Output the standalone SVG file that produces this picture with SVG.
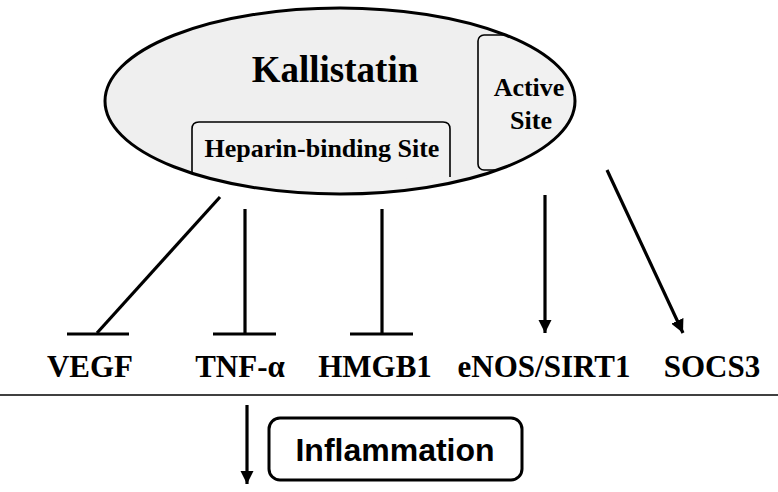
<svg xmlns="http://www.w3.org/2000/svg" width="778" height="492" viewBox="0 0 778 492">
<style>
.lab{font-family:"Liberation Serif","Times New Roman",serif;font-weight:bold;fill:#000;text-anchor:middle}
.ln{stroke:#000;stroke-width:3.2;fill:none}
.sub{fill:#f1f1f1;stroke:#000;stroke-width:1.6}
</style>
<defs>
<marker id="ah" viewBox="0 0 10 10" refX="10" refY="5" markerWidth="4.2" markerHeight="4.2" markerUnits="strokeWidth" orient="auto">
<path d="M0,0 L10,5 L0,10 z" fill="#000"/>
</marker>
<clipPath id="ec"><ellipse cx="340" cy="101" rx="235" ry="93"/></clipPath>
</defs>
<rect width="778" height="492" fill="#fff"/>
<g id="kallistatin">
<ellipse cx="340" cy="101" rx="235" ry="93" fill="#efefef" stroke="none"/>
<g clip-path="url(#ec)">
<rect x="192" y="122" width="258" height="120" rx="7" fill="#f1f1f1"/>
<path class="sub" fill="none" d="M192,185 V129 Q192,122 199,122 H443 Q450,122 450,129 V177"/>
<rect class="sub" x="478" y="35" width="160" height="135" rx="6"/>
</g>
<ellipse cx="340" cy="101" rx="235" ry="93" fill="none" stroke="#000" stroke-width="3"/>
<text class="lab" x="335" y="82" font-size="37">Kallistatin</text>
<text class="lab" x="322" y="157" font-size="26">Heparin-binding Site</text>
<text class="lab" x="529" y="96" font-size="26">Active</text>
<text class="lab" x="531" y="129" font-size="26">Site</text>
</g>
<g id="connectors">
<path class="ln" d="M220,197 L97,333"/>
<path class="ln" d="M67,334 H129" stroke-width="3.6"/>
<path class="ln" d="M245,209 V334"/>
<path class="ln" d="M213,334 H276" stroke-width="3.6"/>
<path class="ln" d="M382,209 V334"/>
<path class="ln" d="M350,334 H413" stroke-width="3.6"/>
<path class="ln" d="M545,195 V333" stroke-width="2.8" marker-end="url(#ah)"/>
<path class="ln" d="M607,170 L683,333" stroke-width="2.8" marker-end="url(#ah)"/>
<path d="M0,395 H778" stroke="#000" stroke-width="1.6"/>
<path class="ln" d="M247,405 V484" stroke-width="2.8" marker-end="url(#ah)"/>
</g>
<g id="vegf"><text class="lab" x="90" y="377" font-size="31">VEGF</text></g>
<g id="tnf"><text class="lab" x="240" y="377" font-size="31">TNF-α</text></g>
<g id="hmgb1"><text class="lab" x="375" y="377" font-size="31">HMGB1</text></g>
<g id="enos"><text class="lab" x="544" y="377" font-size="31">eNOS/SIRT1</text></g>
<g id="socs3"><text class="lab" x="712" y="377" font-size="31">SOCS3</text></g>
<g id="inflammation">
<rect x="269" y="418" width="253" height="62" rx="11" fill="#fff" stroke="#000" stroke-width="3"/>
<text x="395" y="461" font-family="Liberation Sans, Arial, sans-serif" font-weight="bold" font-size="32" text-anchor="middle">Inflammation</text>
</g>
</svg>
